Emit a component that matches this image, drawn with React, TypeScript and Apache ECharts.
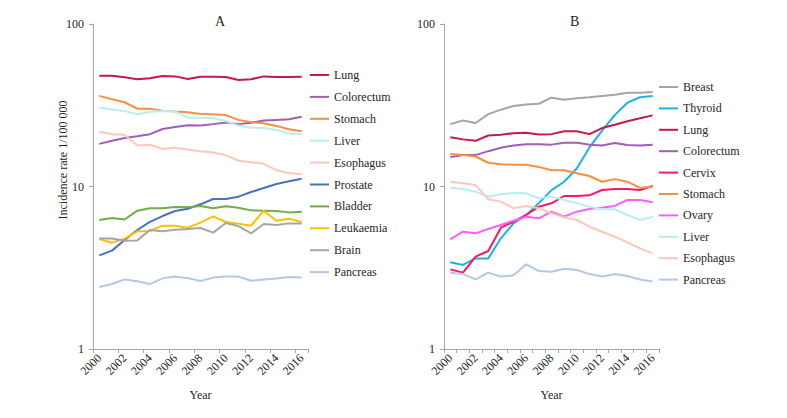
import React, { useEffect, useRef } from "react";
import * as echarts from "echarts";

const years = ["2000","2001","2002","2003","2004","2005","2006","2007","2008","2009","2010","2011","2012","2013","2014","2015","2016"];

// Panel A
const aLung = [48.1,48.1,47.0,45.7,46.3,47.9,47.6,45.9,47.4,47.4,47.2,45.2,45.7,47.6,47.2,47.2,47.4];
const aColorectum = [18.3,19.1,19.9,20.4,21.0,22.6,23.2,23.8,23.7,24.2,24.8,24.2,24.7,25.5,25.7,25.9,26.9];
const aStomach = [36.1,34.4,33.0,30.1,30.1,29.3,28.9,28.6,27.9,27.8,27.5,25.7,24.9,24.5,23.6,22.5,21.9];
const aLiver = [30.6,29.8,29.1,27.8,28.7,29.1,28.9,26.5,26.5,26.3,25.3,23.7,23.0,22.9,22.3,21.2,21.0];
const aEsophagus = [21.7,21.0,20.8,17.9,18.1,17.0,17.3,16.9,16.5,16.2,15.6,14.4,14.1,13.8,12.6,12.1,11.9];
const aProstate = [3.77,4.03,4.69,5.40,6.05,6.58,7.07,7.30,7.77,8.38,8.38,8.66,9.25,9.79,10.36,10.76,11.17];
const aBladder = [6.22,6.40,6.26,7.10,7.34,7.34,7.48,7.45,7.59,7.34,7.55,7.41,7.13,7.10,7.07,6.93,7.0];
const aLeukaemia = [4.75,4.51,4.78,5.30,5.32,5.74,5.74,5.58,5.99,6.55,6.05,5.91,5.74,7.10,6.16,6.34,6.05];
const aBrain = [4.78,4.78,4.64,4.66,5.40,5.30,5.42,5.48,5.55,5.20,5.96,5.71,5.15,5.88,5.80,5.93,5.93];
const aPancreas = [2.41,2.51,2.68,2.61,2.51,2.72,2.79,2.73,2.62,2.75,2.79,2.79,2.63,2.68,2.72,2.77,2.75];

// Panel B
const bBreast = [24.2,25.5,24.6,27.9,29.7,31.3,32.0,32.3,35.2,34.2,34.9,35.4,36.1,36.7,37.8,37.8,38.1];
const bThyroid = [3.42,3.29,3.61,3.61,4.80,5.93,6.68,7.9,9.5,10.7,12.9,17.4,22.1,27.5,32.8,35.4,36.1];
const bLung = [20.1,19.5,19.1,20.6,20.8,21.3,21.4,20.9,21.0,21.9,21.9,21.0,22.9,24.0,25.2,26.3,27.4];
const bColorectum = [15.2,15.6,15.6,16.5,17.3,17.9,18.2,18.2,18.1,18.6,18.6,18.1,17.9,18.5,18.0,17.9,18.1];
const bCervix = [3.09,2.95,3.70,4.01,5.58,6.07,6.68,7.51,7.88,8.74,8.74,8.82,9.52,9.65,9.65,9.52,10.07];
const bStomach = [15.85,15.6,15.3,14.0,13.7,13.6,13.6,13.2,12.6,12.6,12.05,11.6,10.7,11.1,10.7,9.8,10.0];
const bOvary = [4.73,5.27,5.15,5.48,5.80,6.16,6.52,6.37,7.0,6.52,7.0,7.27,7.41,7.59,8.26,8.26,7.99];
const bLiver = [9.84,9.65,9.29,8.66,8.95,9.12,9.08,8.46,8.66,8.26,7.88,7.51,7.24,7.24,6.68,6.22,6.52];
const bEsophagus = [10.7,10.46,10.2,8.34,8.07,7.34,7.59,7.34,6.84,6.46,6.22,5.66,5.27,4.91,4.53,4.16,3.88];
const bPancreas = [2.95,2.89,2.68,2.95,2.79,2.84,3.32,3.02,2.99,3.12,3.06,2.89,2.79,2.89,2.81,2.68,2.60];

const yTicks = [1, 10, 100];

const FONT = "Liberation Serif";
const TXT = "#262626";
const AXIS = "#A6A6A6";

const seriesA = [
  { name: "Lung", data: aLung, color: "#C8174A" },
  { name: "Colorectum", data: aColorectum, color: "#A05EB5" },
  { name: "Stomach", data: aStomach, color: "#F98F3E" },
  { name: "Liver", data: aLiver, color: "#B9EEF0" },
  { name: "Esophagus", data: aEsophagus, color: "#FFC6BC" },
  { name: "Prostate", data: aProstate, color: "#4472C4" },
  { name: "Bladder", data: aBladder, color: "#70AD47" },
  { name: "Leukaemia", data: aLeukaemia, color: "#FFC000" },
  { name: "Brain", data: aBrain, color: "#A5A5A5" },
  { name: "Pancreas", data: aPancreas, color: "#B4C7E7" },
];

const seriesB = [
  { name: "Breast", data: bBreast, color: "#A5A5A5" },
  { name: "Thyroid", data: bThyroid, color: "#16B4EC" },
  { name: "Lung", data: bLung, color: "#C8174A" },
  { name: "Colorectum", data: bColorectum, color: "#A05EB5" },
  { name: "Cervix", data: bCervix, color: "#FF1466" },
  { name: "Stomach", data: bStomach, color: "#F98F3E" },
  { name: "Ovary", data: bOvary, color: "#FF5CFF" },
  { name: "Liver", data: bLiver, color: "#B9EEF0" },
  { name: "Esophagus", data: bEsophagus, color: "#FFC6BC" },
  { name: "Pancreas", data: bPancreas, color: "#B4C7E7" },
];

const legendText = { fontFamily: FONT, fontSize: 12, color: TXT, fontWeight: "normal" as const };

function buildOption(opts: {
  title: string;
  titleX: number;
  gridLeft: number;
  list: { name: string; data: number[]; color: string }[];
  legendLeft: number;
  legendTop: number;
  legendGap: number;
  tickInterval: number;
  yName: boolean;
}) {
  const graphic: any[] = [
    {
      type: "text",
      left: opts.titleX - 5,
      top: 14,
      style: { text: opts.title, font: `14px "${FONT}"`, fill: TXT },
    },
  ];
  if (opts.yName) {
    graphic.push({
      type: "text",
      x: 63,
      y: 160,
      rotation: Math.PI / 2,
      style: {
        text: "Incidence rate 1/100 000",
        font: `12px "${FONT}"`,
        fill: TXT,
        align: "center",
        verticalAlign: "middle",
      },
    });
  }
  return {
    animation: false,
    textStyle: { fontFamily: FONT },
    graphic,
    grid: { left: opts.gridLeft, top: 24, width: 215, height: 325, containLabel: false },
    legend: {
      orient: "vertical",
      left: opts.legendLeft,
      top: opts.legendTop,
      padding: 0,
      icon: "rect",
      itemWidth: 19,
      itemHeight: 2,
      itemGap: opts.legendGap,
      textStyle: legendText,
      data: opts.list.map((s) => ({ name: s.name, icon: "rect", textStyle: legendText })),
    },
    xAxis: {
      type: "category",
      data: years,
      boundaryGap: true,
      name: "Year",
      nameLocation: "middle",
      nameGap: 40,
      nameTextStyle: { fontFamily: FONT, fontSize: 12, color: TXT },
      axisLine: { lineStyle: { color: AXIS, width: 1 } },
      axisTick: { show: true, interval: opts.tickInterval, alignWithLabel: false, length: 4, lineStyle: { color: AXIS } },
      axisLabel: { interval: 1, rotate: 45, fontFamily: FONT, fontSize: 12, color: TXT, margin: 7 },
      splitLine: { show: false },
    },
    yAxis: {
      type: "log",
      logBase: 10,
      min: yTicks[0],
      max: yTicks[yTicks.length - 1],
      axisLine: { show: true, lineStyle: { color: AXIS, width: 1 } },
      axisTick: { show: true, length: 4, lineStyle: { color: AXIS } },
      axisLabel: {
        fontFamily: FONT,
        fontSize: 12,
        color: TXT,
        margin: 9,
        formatter: (v: number) => String(Math.round(v)),
      },
      splitLine: { show: false },
      minorTick: { show: false },
    },
    series: opts.list.map((s) => ({
      name: s.name,
      type: "line",
      data: s.data,
      symbol: "none",
      showSymbol: false,
      color: s.color,
      lineStyle: { color: s.color, width: 2 },
      itemStyle: { color: s.color },
      label: { fontFamily: FONT },
    })),
  };
}

export default function App() {
  const refA = useRef<HTMLDivElement>(null);
  const refB = useRef<HTMLDivElement>(null);
  useEffect(() => {
    const ca = echarts.init(refA.current!, undefined, { renderer: "svg" });
    const cb = echarts.init(refB.current!, undefined, { renderer: "svg" });
    ca.setOption(
      buildOption({
        title: "A",
        titleX: 220,
        gridLeft: 93,
        list: seriesA,
        legendLeft: 310,
        legendTop: 69,
        legendGap: 9.9,
        tickInterval: 1,
        yName: true,
      })
    );
    cb.setOption(
      buildOption({
        title: "B",
        titleX: 175,
        gridLeft: 44,
        list: seriesB,
        legendLeft: 259,
        legendTop: 81,
        legendGap: 9.4,
        tickInterval: 0,
        yName: false,
      })
    );
    return () => {
      ca.dispose();
      cb.dispose();
    };
  }, []);
  return (
    <div style={{ position: "fixed", left: 0, top: 0, width: 787, height: 418, background: "#fff" }}>
      <div ref={refA} style={{ position: "absolute", left: 0, top: 0, width: 400, height: 418 }} />
      <div ref={refB} style={{ position: "absolute", left: 400, top: 0, width: 387, height: 418 }} />
    </div>
  );
}
